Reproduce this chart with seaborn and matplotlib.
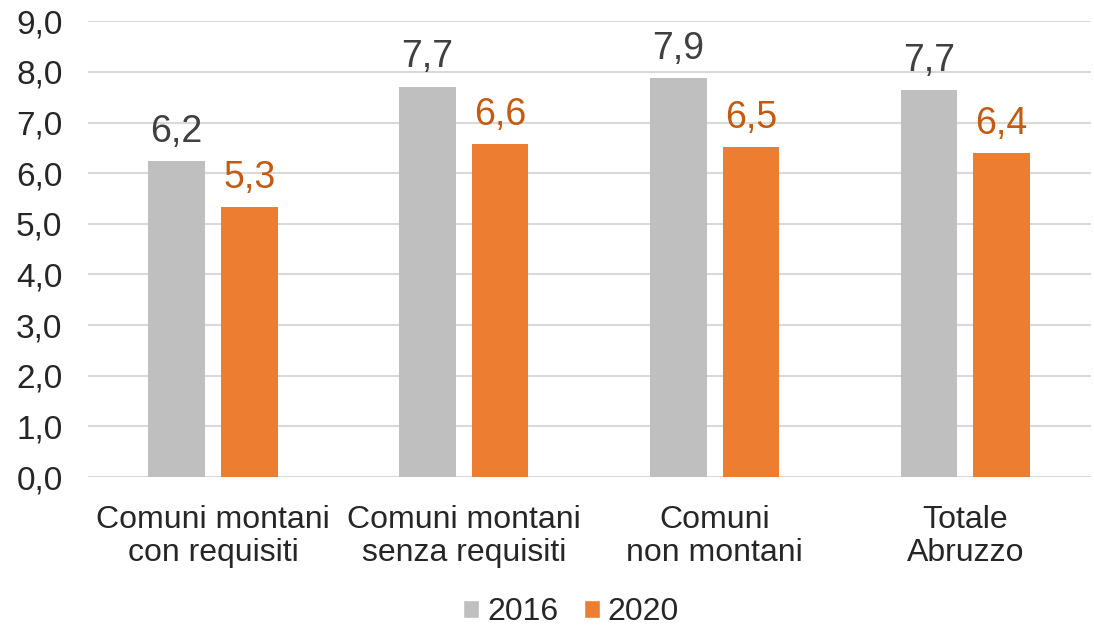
import matplotlib
matplotlib.use("Agg")
import matplotlib.pyplot as plt
import seaborn as sns
import pandas as pd
from matplotlib.patches import Patch

categories = ["Comuni montani\ncon requisiti", "Comuni montani\nsenza requisiti", "Comuni\nnon montani", "Totale\nAbruzzo"]
years = ["2016", "2020"]
values_2016 = [6.24, 7.71, 7.88, 7.64]
values_2020 = [5.34, 6.57, 6.52, 6.39]
labels_2016 = ["6,2", "7,7", "7,9", "7,7"]
labels_2020 = ["5,3", "6,6", "6,5", "6,4"]
yticks = [0, 1, 2, 3, 4, 5, 6, 7, 8, 9]

colors = {"2016": "#BFBFBF", "2020": "#ED7D31"}
label_colors = {"2016": "#404040", "2020": "#C55A11"}

df = pd.DataFrame({
    "cat": categories * 2,
    "year": [years[0]] * 4 + [years[1]] * 4,
    "val": values_2016 + values_2020,
})

sns.set_style("white")
plt.rcParams["font.family"] = ["Liberation Sans", "DejaVu Sans"]

fig = plt.figure(figsize=(10.94, 6.26), dpi=100)
ax = fig.add_axes([0.080, 0.238, 0.917, 0.728])

sns.barplot(data=df, x="cat", y="val", hue="year", order=categories, hue_order=years,
            palette=colors, width=0.58, gap=0.22, ax=ax, legend=False, saturation=1,
            linewidth=0)

ax.set_ylim(0, 9)
ax.set_xlim(-0.5, 3.5)
ax.set_yticks(yticks)
ax.set_yticklabels([f"{v:.1f}".replace(".", ",") for v in yticks], fontsize=24)
ax.tick_params(axis="x", labelsize=23, length=0, pad=20)
ax.tick_params(axis="y", length=0, pad=18)
for t in ax.get_xticklabels():
    t.set_linespacing(1.12)
ax.set_xlabel("")
ax.set_ylabel("")
ax.yaxis.grid(True, color="#D9D9D9", linewidth=1.5)
ax.set_axisbelow(True)
for s in ax.spines.values():
    s.set_visible(False)

for cont, yr, labs in zip(ax.containers, years, [labels_2016, labels_2020]):
    ax.bar_label(cont, labels=labs, padding=8, fontsize=27, color=label_colors[yr])

handles = [Patch(facecolor=colors[y], label=y) for y in years]
fig.legend(handles=handles, loc="center", bbox_to_anchor=(0.522, 0.022), ncol=2,
           frameon=False, fontsize=23, handlelength=0.5, handleheight=0.5,
           handletextpad=0.25, columnspacing=0.8, borderpad=0)

fig.savefig("out.png", dpi=100)
